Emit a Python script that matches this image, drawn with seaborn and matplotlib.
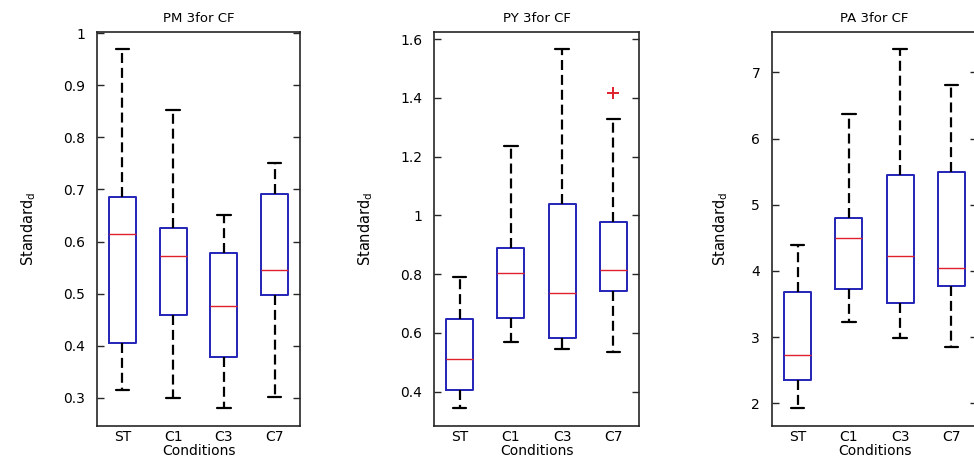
import numpy as np
import pandas as pd
import matplotlib
matplotlib.use("Agg")
import matplotlib.pyplot as plt
import seaborn as sns
from matplotlib.ticker import FuncFormatter

# ===== DATA =====
CONDITIONS = ["ST", "C1", "C3", "C7"]

# PM 3for CF
PM_LOW = [0.316, 0.300, 0.281, 0.302]
PM_Q1 = [0.405, 0.459, 0.378, 0.498]
PM_MED = [0.615, 0.573, 0.477, 0.546]
PM_Q3 = [0.685, 0.625, 0.578, 0.692]
PM_HIGH = [0.970, 0.853, 0.650, 0.751]
PM_OUT = [[], [], [], []]

# PY 3for CF
PY_LOW = [0.345, 0.570, 0.544, 0.536]
PY_Q1 = [0.406, 0.650, 0.581, 0.741]
PY_MED = [0.511, 0.803, 0.737, 0.815]
PY_Q3 = [0.647, 0.888, 1.039, 0.979]
PY_HIGH = [0.790, 1.237, 1.567, 1.328]
PY_OUT = [[], [], [], [1.416]]

# PA 3for CF
PA_LOW = [1.924, 3.235, 2.983, 2.857]
PA_Q1 = [2.353, 3.729, 3.512, 3.779]
PA_MED = [2.731, 4.505, 4.228, 4.051]
PA_Q3 = [3.688, 4.797, 5.453, 5.488]
PA_HIGH = [4.394, 6.375, 7.358, 6.813]
PA_OUT = [[], [], [], []]

TITLES = ["PM 3for CF", "PY 3for CF", "PA 3for CF"]

# ===== STYLE =====
BOX_BLUE = "#2424b8"
MED_RED = "#e0202c"
AX_COLOR = "#262626"

sns.set_style("white")
plt.rcParams["font.family"] = ["DejaVu Sans"]
plt.rcParams["mathtext.default"] = "regular"
plt.rcParams["text.color"] = "black"
plt.rcParams["axes.labelcolor"] = "black"
plt.rcParams["xtick.color"] = "black"
plt.rcParams["ytick.color"] = "black"


def make_frame(low, q1, med, q3, high, outliers):
    # samples whose quartiles / whisker ends reproduce the drawn boxes
    rows = []
    for i, cond in enumerate(CONDITIONS):
        vals = [low[i], q1[i], q1[i], med[i], med[i], q3[i], q3[i], high[i]] + outliers[i]
        for v in vals:
            rows.append({"Conditions": cond, "value": v})
    return pd.DataFrame(rows)


def draw_panel(ax, df, title, ylim, yticks, ylabel_x):
    sns.boxplot(
        data=df, x="Conditions", y="value", order=CONDITIONS, ax=ax,
        fill=False, color=BOX_BLUE, saturation=1, width=0.53, whis=1.5,
        linewidth=1.4,
        medianprops={"color": MED_RED, "linewidth": 1.0},
        whiskerprops={"color": "black", "linewidth": 1.6, "linestyle": (0, (4.5, 2.2))},
        capprops={"color": "black", "linewidth": 1.6},
        flierprops={"marker": "+", "markeredgecolor": MED_RED, "markersize": 8,
                    "markeredgewidth": 1.4},
    )
    ax.set_xlim(-0.5, 3.5)
    ax.set_ylim(*ylim)
    ax.set_yticks(yticks)
    ax.yaxis.set_major_formatter(FuncFormatter(lambda v, p: f"{v:g}"))
    ax.tick_params(axis="y", direction="in", length=5, width=1.0, color=AX_COLOR,
                   left=True, right=True, labelsize=10, pad=8.5)
    ax.tick_params(axis="x", length=0, labelsize=10, pad=3)
    for s in ax.spines.values():
        s.set_visible(True)
        s.set_color(AX_COLOR)
        s.set_linewidth(1.2)
    ax.set_title(title, fontsize=9.5, pad=7)
    ax.set_xlabel("Conditions", fontsize=10, labelpad=0)
    ax.set_ylabel("Standard$_{d}$", fontsize=10.5)
    ax.yaxis.set_label_coords(ylabel_x, 0.5)


fig = plt.figure(figsize=(9.74, 4.59), dpi=100)
ax1 = fig.add_axes([0.0996, 0.0719, 0.2084, 0.8584])
ax2 = fig.add_axes([0.4456, 0.0719, 0.2105, 0.8584])
ax3 = fig.add_axes([0.7926, 0.0719, 0.2105, 0.8584])

draw_panel(ax1, make_frame(PM_LOW, PM_Q1, PM_MED, PM_Q3, PM_HIGH, PM_OUT), TITLES[0],
           (0.246, 1.002), np.arange(0.3, 1.01, 0.1), -0.29)
draw_panel(ax2, make_frame(PY_LOW, PY_Q1, PY_MED, PY_Q3, PY_HIGH, PY_OUT), TITLES[1],
           (0.283, 1.624), np.arange(0.4, 1.61, 0.2), -0.288)
draw_panel(ax3, make_frame(PA_LOW, PA_Q1, PA_MED, PA_Q3, PA_HIGH, PA_OUT), TITLES[2],
           (1.657, 7.61), np.arange(2, 8, 1), -0.205)

fig.savefig("out.png", dpi=100)
